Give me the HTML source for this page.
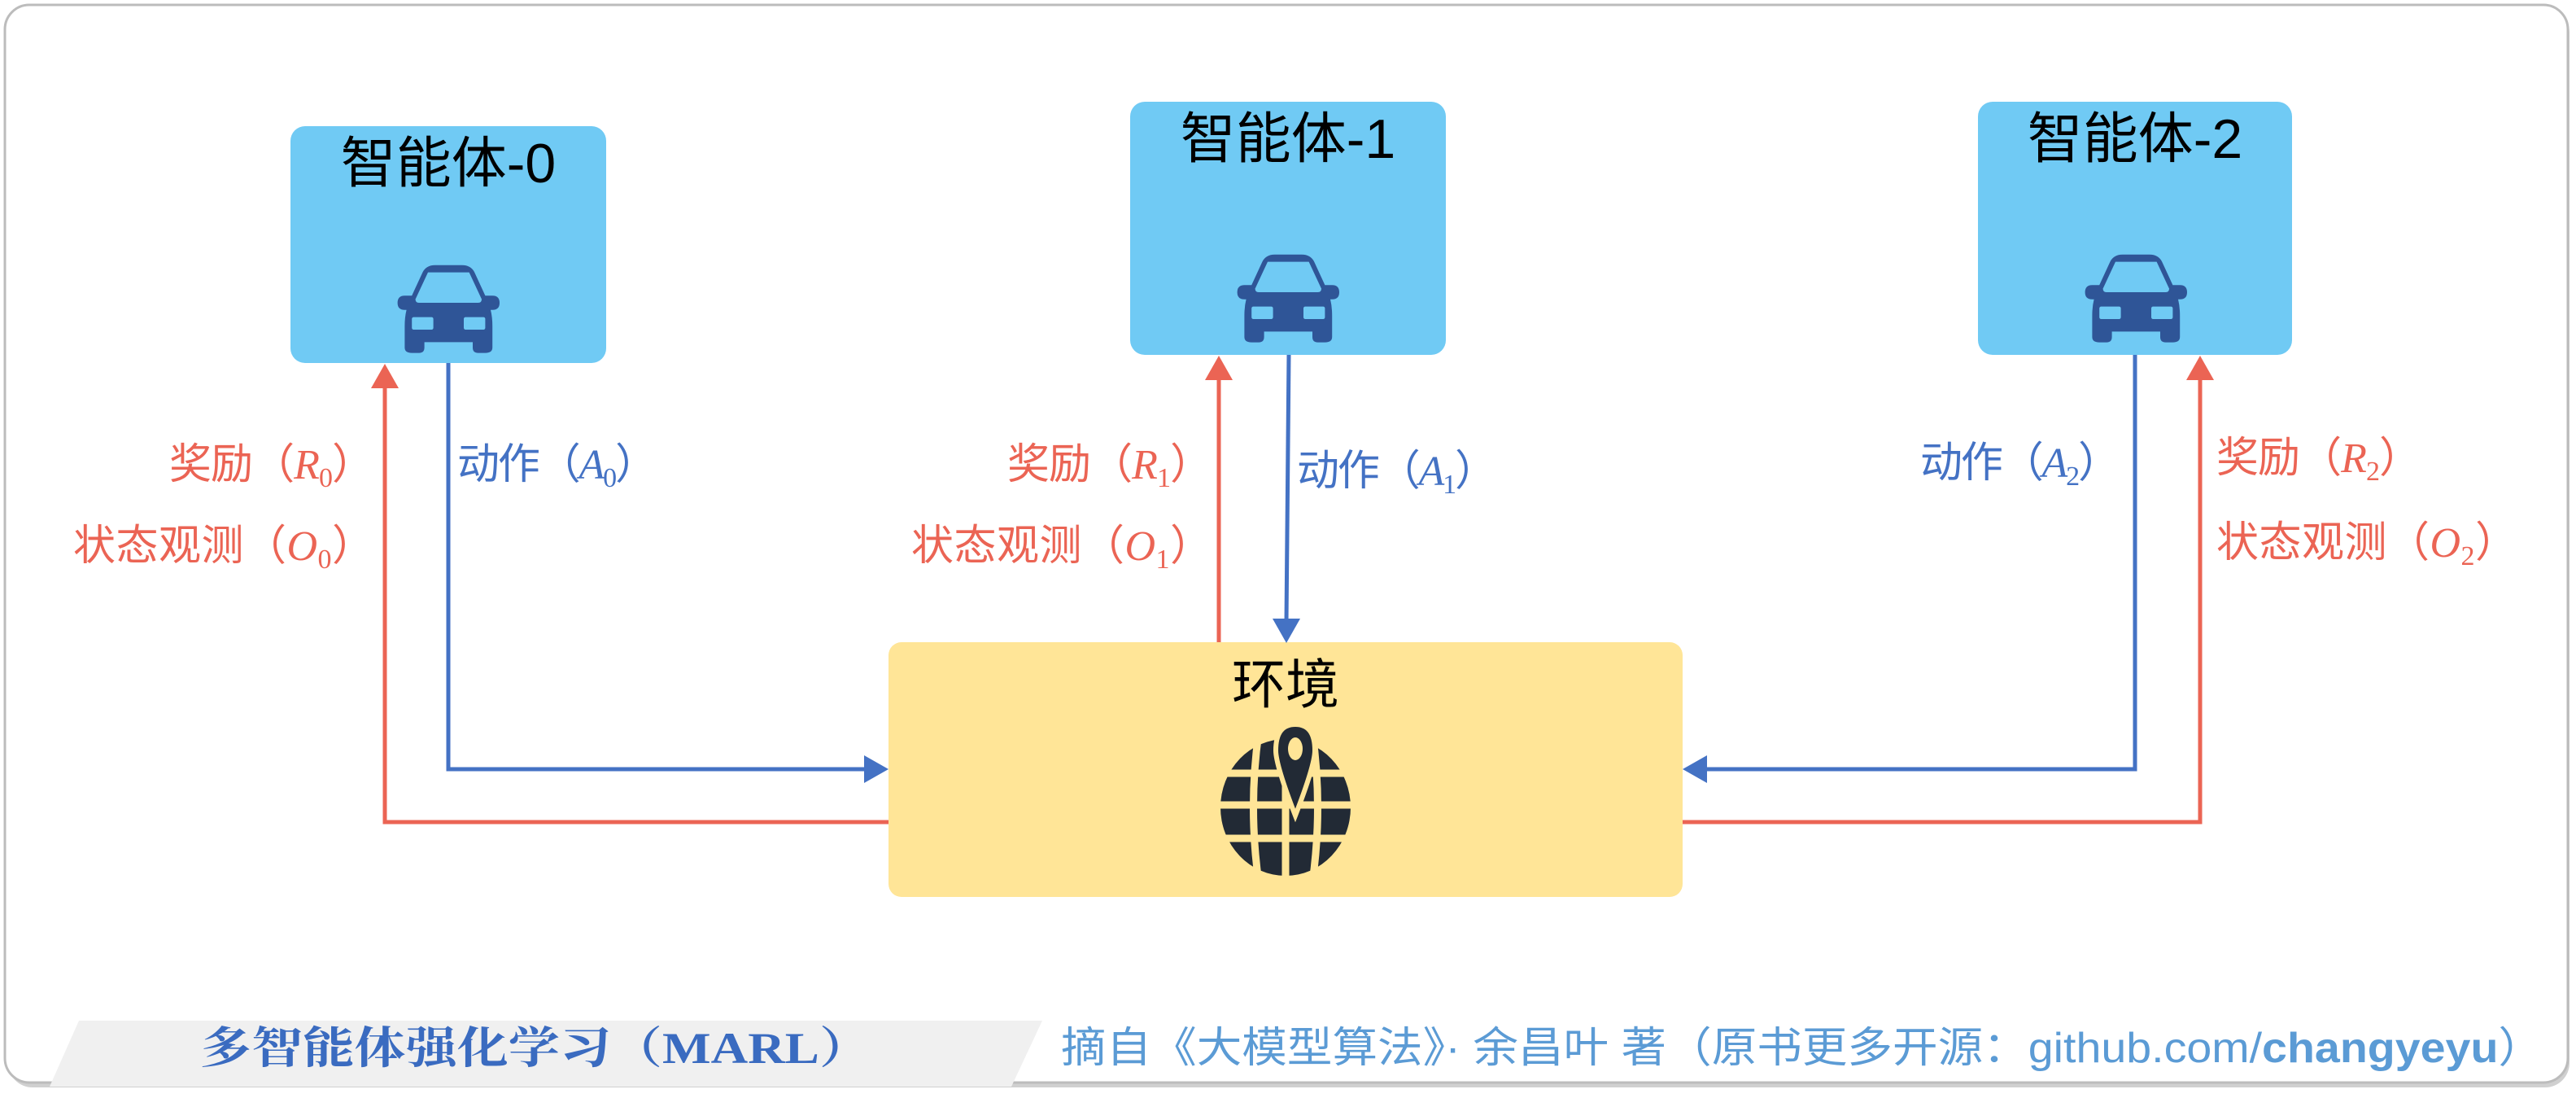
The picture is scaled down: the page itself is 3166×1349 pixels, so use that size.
<!DOCTYPE html>
<html><head><meta charset="utf-8"><style>
html,body{margin:0;padding:0;background:#fff;}
body{width:3166px;height:1344px;overflow:hidden;position:relative;}
text{font-family:"Liberation Sans","Noto Sans CJK SC",sans-serif;}
</style></head><body>
<svg width="3166" height="1344" viewBox="0 0 3166 1344" xmlns="http://www.w3.org/2000/svg">
<defs>
<g id="car">
<path d="M22 22 L34 -4 Q38 -12 48 -12 L78 -12 Q88 -12 92 -4 L104 22 L112 22 Q120 22 120 30 Q120 38 112 38 L110 38 Q112 46 112 56 L112 80 Q112 86 104 86 L96 86 Q90 86 90 80 L90 74 L36 74 L36 80 Q36 86 30 86 L22 86 Q14 86 14 80 L14 56 Q14 46 16 38 L14 38 Q6 38 6 30 Q6 22 14 22 Z" fill="#2f5597"/>
<path d="M40 -4 L86 -4 L100 26 Q100 30 96 30 L30 30 Q26 30 26 26 Z" fill="#70caf4"/>
<rect x="22" y="46" width="24" height="14" rx="2" fill="#70caf4"/>
<rect x="80" y="46" width="24" height="14" rx="2" fill="#70caf4"/>
</g>
</defs>
<rect x="10" y="10" width="3148" height="1326" rx="30" fill="#d0d0d0"/>
<rect x="6" y="6" width="3150" height="1324" rx="30" fill="#fff" stroke="#bcbcbc" stroke-width="3"/>

<rect x="357" y="155" width="388" height="291" rx="18" fill="#70caf4"/>
<rect x="1389" y="125" width="388" height="311" rx="18" fill="#70caf4"/>
<rect x="2431" y="125" width="386" height="311" rx="18" fill="#70caf4"/>
<text x="551" y="224" font-size="68" text-anchor="middle" fill="#000">智能体-0</text>
<text x="1583" y="194" font-size="68" text-anchor="middle" fill="#000">智能体-1</text>
<text x="2624" y="194" font-size="68" text-anchor="middle" fill="#000">智能体-2</text>
<g transform="translate(482,339) scale(1.1)"><use href="#car"/></g>
<g transform="translate(1514,326) scale(1.1)"><use href="#car"/></g>
<g transform="translate(2556,326) scale(1.1)"><use href="#car"/></g>

<rect x="1092" y="789" width="976" height="313" rx="16" fill="#ffe597"/>
<text x="1580" y="864" font-size="66" text-anchor="middle" fill="#000">环境</text>
<g transform="translate(1580,992)">
<ellipse cx="0" cy="0" rx="80" ry="84" fill="#222a35"/>
<g stroke="#ffe597" stroke-width="9" fill="none">
<line x1="-90" y1="-42" x2="90" y2="-42"/>
<line x1="-90" y1="-3" x2="90" y2="-3"/>
<line x1="-90" y1="38" x2="90" y2="38"/>
<line x1="0" y1="-92" x2="0" y2="92"/>
<path d="M-33 -92 Q-46 0 -33 92"/>
<path d="M33 -92 Q46 0 33 92"/>
</g>
<path d="M12 -102 Q36 -102 36 -70 Q36 -52 12 10 Q-12 -52 -12 -70 Q-12 -102 12 -102 Z" fill="#222a35" stroke="#ffe597" stroke-width="6"/>
<ellipse cx="12" cy="-72" rx="9" ry="14" fill="#ffe597"/>
</g>

<g fill="none" stroke-width="5">
<polyline points="1092,1010 473,1010 473,470" stroke="#eb6454"/>
<polyline points="551,446 551,945 1068,945" stroke="#4472c4"/>
<line x1="1498" y1="789" x2="1498" y2="462" stroke="#eb6454"/>
<line x1="1584" y1="436" x2="1581" y2="765" stroke="#4472c4"/>
<polyline points="2624,436 2624,945 2092,945" stroke="#4472c4"/>
<polyline points="2068,1010 2704,1010 2704,462" stroke="#eb6454"/>
</g>
<polygon points="473,447 456,477 490,477" fill="#eb6454"/>
<polygon points="1498,437 1481,467 1515,467" fill="#eb6454"/>
<polygon points="2704,437 2687,467 2721,467" fill="#eb6454"/>
<polygon points="1092,945 1062,928 1062,962" fill="#4472c4"/>
<polygon points="1581,790 1564,760 1598,760" fill="#4472c4"/>
<polygon points="2068,945 2098,928 2098,962" fill="#4472c4"/>

<g font-size="52" fill="#eb6454">
<text x="208" y="588" textLength="252" lengthAdjust="spacing">奖励（<tspan font-family="Liberation Serif" font-style="italic">R</tspan><tspan font-family="Liberation Serif" font-size="34" dy="10">0</tspan><tspan dy="-10">）</tspan></text>
<text x="90" y="688" textLength="370" lengthAdjust="spacing">状态观测（<tspan font-family="Liberation Serif" font-style="italic">O</tspan><tspan font-family="Liberation Serif" font-size="34" dy="10">0</tspan><tspan dy="-10">）</tspan></text>
<text x="1238" y="588" textLength="252" lengthAdjust="spacing">奖励（<tspan font-family="Liberation Serif" font-style="italic">R</tspan><tspan font-family="Liberation Serif" font-size="34" dy="10">1</tspan><tspan dy="-10">）</tspan></text>
<text x="1120" y="688" textLength="370" lengthAdjust="spacing">状态观测（<tspan font-family="Liberation Serif" font-style="italic">O</tspan><tspan font-family="Liberation Serif" font-size="34" dy="10">1</tspan><tspan dy="-10">）</tspan></text>
<text x="2724" y="580" textLength="252" lengthAdjust="spacing">奖励（<tspan font-family="Liberation Serif" font-style="italic">R</tspan><tspan font-family="Liberation Serif" font-size="34" dy="10">2</tspan><tspan dy="-10">）</tspan></text>
<text x="2724" y="684" textLength="370" lengthAdjust="spacing">状态观测（<tspan font-family="Liberation Serif" font-style="italic">O</tspan><tspan font-family="Liberation Serif" font-size="34" dy="10">2</tspan><tspan dy="-10">）</tspan></text>
</g>
<g font-size="52" fill="#4472c4">
<text x="562" y="588" textLength="246" lengthAdjust="spacing">动作（<tspan font-family="Liberation Serif" font-style="italic">A</tspan><tspan font-family="Liberation Serif" font-size="34" dy="10">0</tspan><tspan dy="-10">）</tspan></text>
<text x="1594" y="596" textLength="246" lengthAdjust="spacing">动作（<tspan font-family="Liberation Serif" font-style="italic">A</tspan><tspan font-family="Liberation Serif" font-size="34" dy="10">1</tspan><tspan dy="-10">）</tspan></text>
<text x="2360" y="586" textLength="246" lengthAdjust="spacing">动作（<tspan font-family="Liberation Serif" font-style="italic">A</tspan><tspan font-family="Liberation Serif" font-size="34" dy="10">2</tspan><tspan dy="-10">）</tspan></text>
</g>

<polygon points="97,1254 1281,1254 1243,1335 61,1335" fill="#f0f0f0"/>
<text x="246" y="1306" font-size="54" font-weight="bold" fill="#3a6bc0" style="font-family:'Liberation Serif','Noto Serif CJK SC',serif" textLength="824" lengthAdjust="spacingAndGlyphs">多智能体强化学习（MARL）</text>
<text x="1304" y="1305" font-size="52" fill="#5b9bd5" textLength="1822" lengthAdjust="spacingAndGlyphs">摘自《大模型算法》· 余昌叶 著（原书更多开源：github.com/<tspan font-weight="bold">changyeyu</tspan>）</text>
</svg>
</body></html>
